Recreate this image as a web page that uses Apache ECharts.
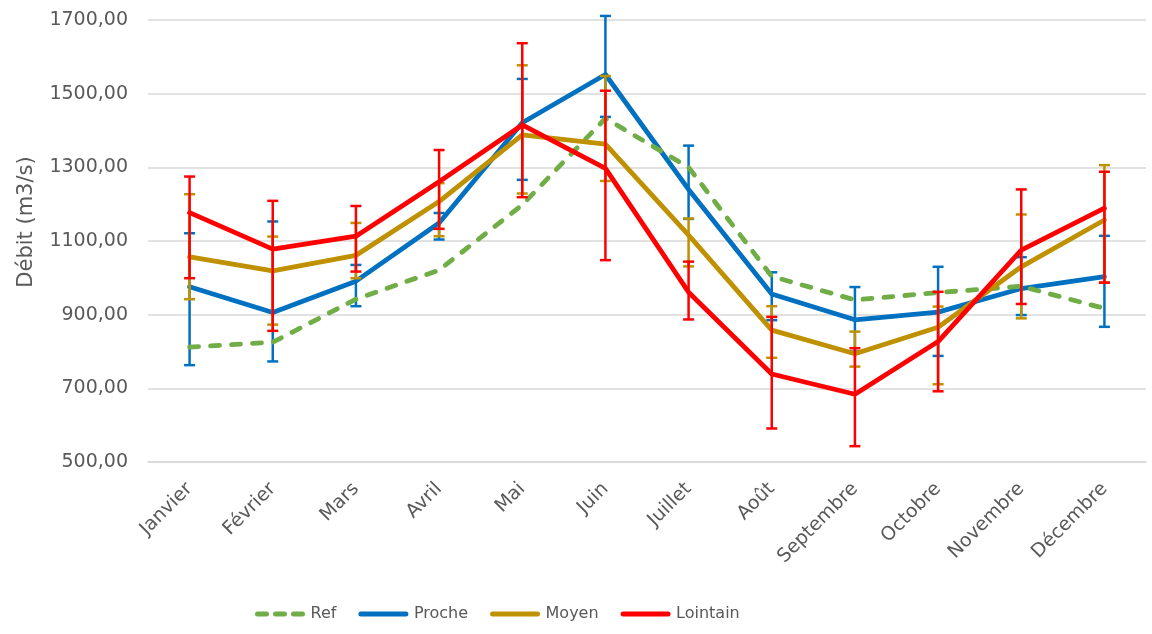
<!DOCTYPE html>
<html>
<head>
<meta charset="utf-8">
<script src="https://cdn.jsdelivr.net/npm/echarts@6/dist/echarts.min.js"></script>
<style>
html,body{margin:0;padding:0;background:#fff;}
#c{width:1152px;height:634px;}
</style>
</head>
<body>
<div id="c"></div>
<script>
const categories = ['Janvier','Février','Mars','Avril','Mai','Juin','Juillet','Août','Septembre','Octobre','Novembre','Décembre'];
const yTicks = [500, 700, 900, 1100, 1300, 1500, 1700];
const ref = [812, 825, 942, 1021, 1198, 1433, 1300, 1004, 940, 960, 977, 917];
const proche = [976, 906, 991, 1149, 1421, 1552, 1240, 956, 886, 907, 971, 1003];
const moyen = [1057, 1019, 1061, 1207, 1388, 1363, 1116, 858, 794, 866, 1030, 1157];
const lointain = [1177, 1078, 1113, 1261, 1415, 1297, 961, 739, 684, 827, 1075, 1189];
const procheLow = [763, 773, 923, 1104, 1266, 1437, 1160, 885, 800, 788, 899, 867];
const procheHigh = [1121, 1153, 1035, 1176, 1540, 1711, 1359, 1015, 975, 1030, 1056, 1114];
const moyenLow = [942, 873, 999, 1113, 1229, 1263, 1031, 783, 759, 711, 890, 987];
const moyenHigh = [1227, 1112, 1149, 1257, 1577, 1548, 1161, 923, 854, 922, 1172, 1306];
const lointainLow = [999, 856, 1017, 1133, 1219, 1048, 887, 591, 543, 692, 929, 987];
const lointainHigh = [1275, 1209, 1195, 1347, 1637, 1508, 1044, 894, 809, 962, 1240, 1288];

const C_REF = '#70AD47', C_PRO = '#0070C0', C_MOY = '#BF9000', C_LOI = '#FF0000';
const FONT = 'DejaVu Sans';
const TXT = '#595959';

const ICON_SOLID = 'path://M2.5,0 h45 a2.5,2.5 0 0 1 0,5 h-45 a2.5,2.5 0 0 1 0,-5 z';
const ICON_DASH = 'path://M2.5,0 h9 a2.5,2.5 0 0 1 0,5 h-9 a2.5,2.5 0 0 1 0,-5 z M20.5,0 h9 a2.5,2.5 0 0 1 0,5 h-9 a2.5,2.5 0 0 1 0,-5 z M38.5,0 h9 a2.5,2.5 0 0 1 0,5 h-9 a2.5,2.5 0 0 1 0,-5 z';

function errData(lo, hi) {
  return lo.map((v, i) => [i, v, hi[i]]);
}
function errSeries(name, color, lo, hi, z) {
  return {
    type: 'custom',
    name: name + '_err',
    z: z,
    data: errData(lo, hi),
    encode: { x: 0, y: [1, 2] },
    silent: true,
    renderItem: function (params, api) {
      const x = api.value(0);
      const p1 = api.coord([x, api.value(1)]);
      const p2 = api.coord([x, api.value(2)]);
      const hw = 5.5;
      const st = { stroke: color, lineWidth: 2.5, fill: null };
      return {
        type: 'group',
        children: [
          { type: 'line', shape: { x1: p1[0], y1: p1[1], x2: p2[0], y2: p2[1] }, style: st },
          { type: 'line', shape: { x1: p1[0] - hw, y1: p1[1], x2: p1[0] + hw, y2: p1[1] }, style: st },
          { type: 'line', shape: { x1: p2[0] - hw, y1: p2[1], x2: p2[0] + hw, y2: p2[1] }, style: st }
        ]
      };
    }
  };
}
function lineSeries(name, color, data, z, dashed) {
  return {
    type: 'line',
    name: name,
    data: data,
    z: z,
    symbol: 'none',
    showSymbol: false,
    lineStyle: dashed
      ? { color: color, width: 4.8, type: [9, 12], cap: 'round' }
      : { color: color, width: 4.8, cap: 'round', join: 'round' },
    itemStyle: { color: color }
  };
}

const chart = echarts.init(document.getElementById('c'), null, { renderer: 'canvas' });
chart.setOption({
  animation: false,
  backgroundColor: '#ffffff',
  grid: { left: 148, top: 20, width: 998, height: 442, containLabel: false },
  xAxis: {
    type: 'category',
    data: categories,
    boundaryGap: true,
    axisLine: { show: true, lineStyle: { color: '#d9d9d9', width: 1.5 } },
    axisTick: { show: false },
    axisLabel: { rotate: 45, margin: 24, fontFamily: FONT, fontSize: 19, color: TXT, interval: 0 }
  },
  yAxis: {
    type: 'value',
    min: yTicks[0],
    max: yTicks[yTicks.length - 1],
    interval: 200,
    axisLine: { show: false },
    axisTick: { show: false },
    splitLine: { lineStyle: { color: '#d9d9d9', width: 1.5 } },
    axisLabel: {
      margin: 20, fontFamily: FONT, fontSize: 19, color: TXT,
      formatter: v => v.toFixed(2).replace('.', ',')
    }
  },
  graphic: [{
    type: 'text',
    x: 27, y: 222,
    rotation: Math.PI / 2,
    style: { text: 'Débit (m3/s)', fontFamily: FONT, fontSize: 21, fill: TXT, align: 'center', verticalAlign: 'middle' }
  }],
  legend: {
    data: [
      { name: 'Ref', icon: ICON_DASH },
      { name: 'Proche', icon: ICON_SOLID },
      { name: 'Moyen', icon: ICON_SOLID },
      { name: 'Lointain', icon: ICON_SOLID }
    ],
    bottom: 7,
    left: 250,
    itemWidth: 51,
    itemHeight: 5,
    itemGap: 22,
    itemStyle: { borderWidth: 0 },
    textStyle: { fontFamily: FONT, fontSize: 16, color: TXT }
  },
  series: [
    lineSeries('Proche', C_PRO, proche, 3, false),
    errSeries('Proche', C_PRO, procheLow, procheHigh, 3),
    lineSeries('Ref', C_REF, ref, 4, true),
    lineSeries('Moyen', C_MOY, moyen, 5, false),
    errSeries('Moyen', C_MOY, moyenLow, moyenHigh, 5),
    lineSeries('Lointain', C_LOI, lointain, 6, false),
    errSeries('Lointain', C_LOI, lointainLow, lointainHigh, 6)
  ]
});
</script>
</body>
</html>
